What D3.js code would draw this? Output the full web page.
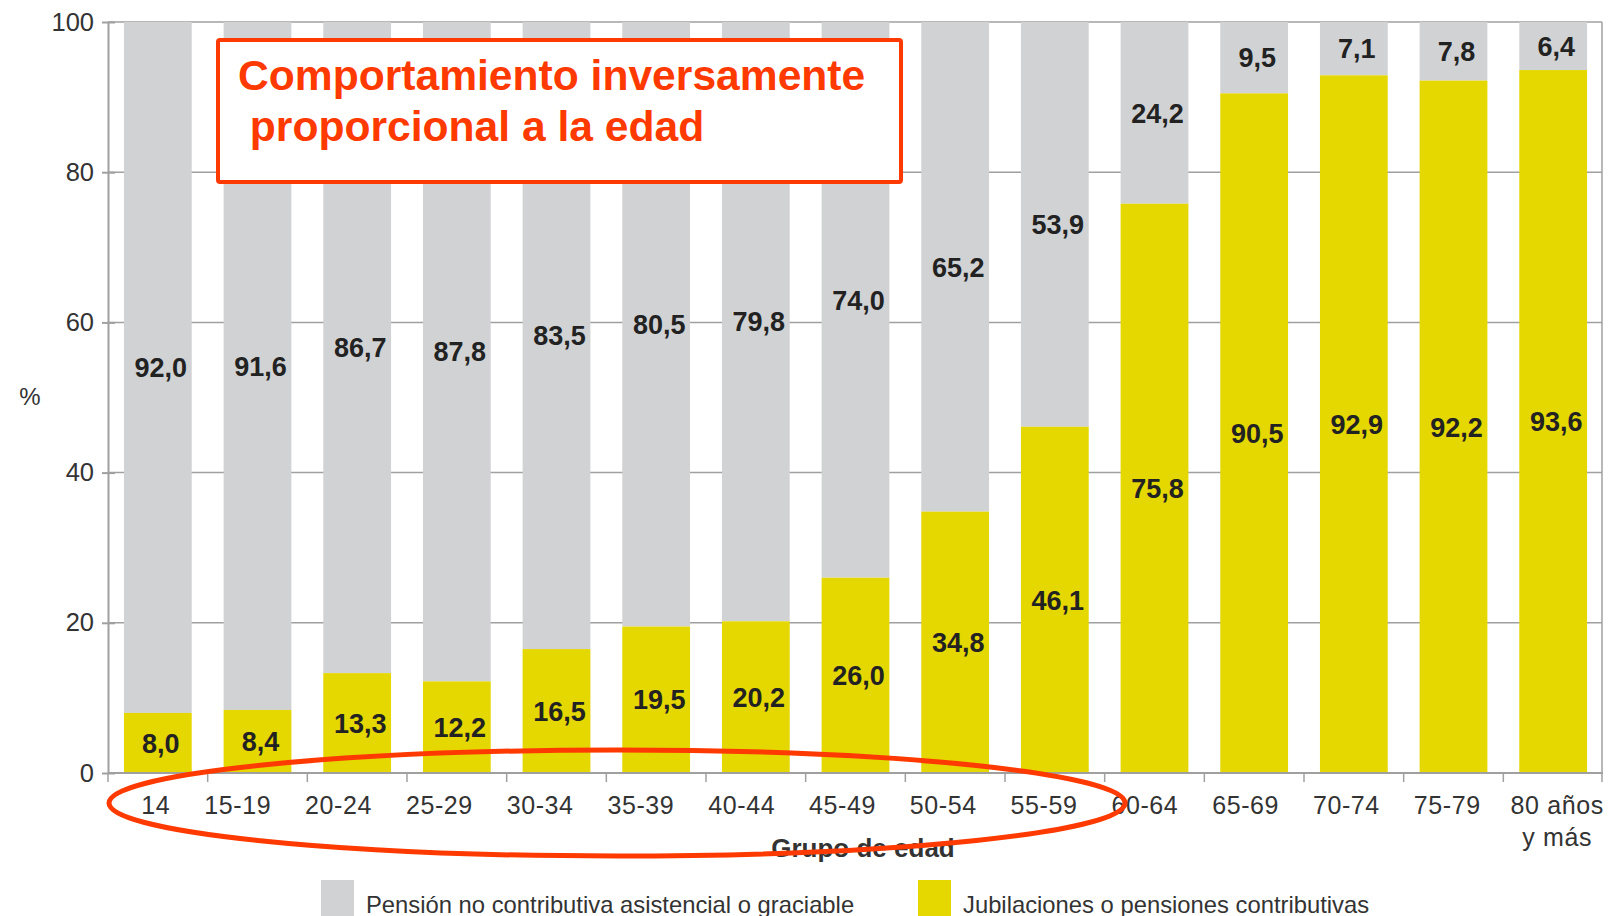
<!DOCTYPE html>
<html><head><meta charset="utf-8">
<script src="https://cdn.jsdelivr.net/npm/d3@7"></script>
<style>
html,body{margin:0;padding:0;background:#fff;}
svg{display:block;font-family:"Liberation Sans",Arial,sans-serif;}
</style></head>
<body>
<svg id="chart" width="1608" height="916"></svg>
<script>
const categories = ["14","15-19","20-24","25-29","30-34","35-39","40-44","45-49","50-54","55-59","60-64","65-69","70-74","75-79","80 años|y más"];
const contributiva = [8.0,8.4,13.3,12.2,16.5,19.5,20.2,26.0,34.8,46.1,75.8,90.5,92.9,92.2,93.6];
const noContributiva = [92.0,91.6,86.7,87.8,83.5,80.5,79.8,74.0,65.2,53.9,24.2,9.5,7.1,7.8,6.4];
const yTicks = [0,20,40,60,80,100];
const seriesNames = ["Pensión no contributiva asistencial o graciable","Jubilaciones o pensiones contributivas"];
const axisTitleX = "Grupo de edad";
const axisTitleY = "%";
const noteLines = ["Comportamiento inversamente"," proporcional a la edad"];

const GRAY = "#d1d2d4", YELLOW = "#e5d700", RED = "#ff3a00", TXT = "#333";
const svg = d3.select("#chart");
const x = d3.scaleBand().domain(categories).range([108,1603]).paddingInner(0.32).paddingOuter(0.16);
const xLab = d3.scalePoint().domain(categories).range([137,1548]);
const y = d3.scaleLinear().domain([0,100]).range([773,22]);
const fmt = v => d3.format(".1f")(v).replace(".", ",");

// gridlines
svg.append("g").selectAll("line").data(yTicks.filter(d=>d>0)).join("line")
  .attr("x1",108).attr("x2",1602).attr("y1",d=>y(d)).attr("y2",d=>y(d))
  .attr("stroke","#a0a0a0").attr("stroke-width",1.5);
// right border
svg.append("line").attr("x1",1602).attr("x2",1602).attr("y1",y(100)).attr("y2",y(0))
  .attr("stroke","#a0a0a0").attr("stroke-width",1.5);

const rows = categories.map((c,i)=>({c, i, a:contributiva[i], b:noContributiva[i]}));
// bars
svg.append("g").selectAll("rect").data(rows).join("rect")
  .attr("x",d=>x(d.c)).attr("width",x.bandwidth())
  .attr("y",d=>y(100)).attr("height",d=>y(d.a)-y(100)).attr("fill",GRAY);
svg.append("g").selectAll("rect").data(rows).join("rect")
  .attr("x",d=>x(d.c)).attr("width",x.bandwidth())
  .attr("y",d=>y(d.a)).attr("height",d=>y(0)-y(d.a)).attr("fill",YELLOW);

// value labels
const lab = svg.append("g").attr("font-weight","bold").attr("font-size",27).attr("fill","#222").attr("text-anchor","middle");
lab.selectAll("text.a").data(rows).join("text").attr("class","a")
  .attr("x",d=>x(d.c)+x.bandwidth()/2+3).attr("y",d=>y(d.a/2)).attr("dy","0.36em").text(d=>fmt(d.a));
lab.selectAll("text.b").data(rows).join("text").attr("class","b")
  .attr("x",d=>x(d.c)+x.bandwidth()/2+3).attr("y",d=>y(d.a+d.b/2)).attr("dy","0.36em").text(d=>fmt(d.b));

// y axis
const ya = svg.append("g").attr("transform","translate(108,0)")
  .call(d3.axisLeft(y).tickValues(yTicks).tickSize(0).tickPadding(14));
ya.select(".domain").attr("stroke","#a0a0a0").attr("stroke-width",2);
ya.selectAll(".tick text").attr("font-size",25.5).attr("fill",TXT).attr("font-family","Liberation Sans, Arial, sans-serif");
ya.selectAll(".tick").append("line").attr("x1",-6).attr("x2",7).attr("stroke","#a0a0a0").attr("stroke-width",2);

// x axis
const xa = svg.append("g").attr("transform",`translate(0,${y(0)})`)
  .call(d3.axisBottom(x).tickSize(0).tickFormat(""));
xa.select(".domain").attr("stroke","#a0a0a0").attr("stroke-width",2).attr("d","M108,0H1603");
const step = x.step();
const edges = categories.map(c=>x(c)-x.paddingInner()*step/2).concat([1602]);
edges[0]=108;
xa.append("g").selectAll("line").data(edges).join("line")
  .attr("x1",d=>d).attr("x2",d=>d).attr("y1",0).attr("y2",9).attr("stroke","#a0a0a0").attr("stroke-width",1.5);
const xl = svg.append("g").attr("font-size",25).attr("fill",TXT).attr("text-anchor","middle").attr("letter-spacing",0.6);
rows.forEach(d=>{
  const parts = d.c.split("|");
  const edge = d.i===0 || d.i===categories.length-1;
  const cx = edge ? x(d.c)+x.bandwidth()/2 + (d.i===0?-2:4) : xLab(d.c);
  const t = xl.append("text").attr("x",cx).attr("y",814);
  parts.forEach((p,k)=>t.append("tspan").attr("x",cx).attr("dy",k?32:0).text(p));
});
svg.append("text").attr("x",863).attr("y",857).attr("text-anchor","middle").attr("font-weight","bold")
  .attr("font-size",26).attr("fill",TXT).text(axisTitleX);
svg.append("text").attr("x",30).attr("y",405).attr("text-anchor","middle").attr("font-size",24).attr("fill",TXT).text(axisTitleY);

// legend
const leg = [{n:seriesNames[0],c:GRAY,x:321},{n:seriesNames[1],c:YELLOW,x:918}];
const lg = svg.append("g");
lg.selectAll("rect").data(leg).join("rect").attr("x",d=>d.x).attr("y",880).attr("width",33).attr("height",40).attr("fill",d=>d.c);
lg.selectAll("text").data(leg).join("text").attr("x",d=>d.x+45).attr("y",913).attr("font-size",23.8).attr("fill",TXT).text(d=>d.n);

// annotation box
svg.append("rect").attr("x",218).attr("y",40).attr("width",683).attr("height",142)
  .attr("fill","#fff").attr("stroke",RED).attr("stroke-width",4).attr("rx",2);
svg.append("text").attr("x",238).attr("y",90).attr("font-weight","bold").attr("font-size",42.6).attr("fill",RED).text(noteLines[0]);
svg.append("text").attr("x",238).attr("y",141).attr("font-weight","bold").attr("font-size",42.6).attr("fill",RED).attr("xml:space","preserve").style("white-space","pre").text(noteLines[1]);

// ellipse
svg.append("ellipse").attr("cx",617).attr("cy",803).attr("rx",508).attr("ry",53)
  .attr("fill","none").attr("stroke",RED).attr("stroke-width",5);
</script>
</body></html>
